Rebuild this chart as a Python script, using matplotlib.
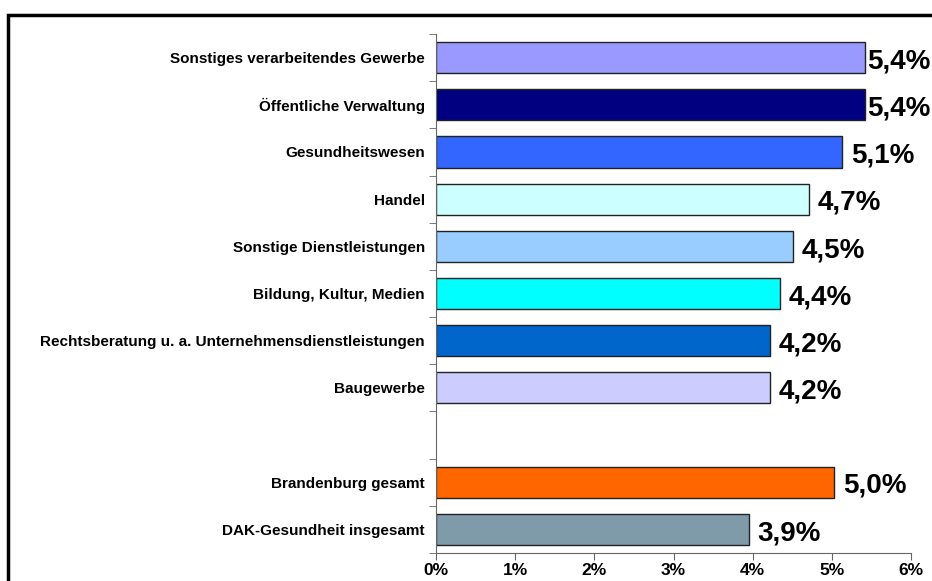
import numpy as np
import matplotlib
matplotlib.use('Agg')
import matplotlib.pyplot as plt
from matplotlib.patches import Rectangle

plt.rcParams['font.family'] = ['Liberation Sans', 'DejaVu Sans']

# Daten (von oben nach unten), leere Zeile als Abstand
kategorien = ['Sonstiges verarbeitendes Gewerbe', 'Öffentliche Verwaltung', 'Gesundheitswesen',
              'Handel', 'Sonstige Dienstleistungen', 'Bildung, Kultur, Medien',
              'Rechtsberatung u. a. Unternehmensdienstleistungen', 'Baugewerbe', '',
              'Brandenburg gesamt', 'DAK-Gesundheit insgesamt']
werte = [5.42, 5.42, 5.13, 4.71, 4.51, 4.35, 4.22, 4.22, None, 5.03, 3.95]
beschriftung = ['5,4%', '5,4%', '5,1%', '4,7%', '4,5%', '4,4%', '4,2%', '4,2%', '',
                '5,0%', '3,9%']
farben = ['#9999FF', '#000080', '#3366FF', '#CCFFFF', '#99CCFF', '#00FFFF',
          '#0066CC', '#CCCCFF', 'white', '#FF6600', '#7F9BAA']
x_ticks = [0, 1, 2, 3, 4, 5, 6]
x_labels = ['0%', '1%', '2%', '3%', '4%', '5%', '6%']

fig = plt.figure(figsize=(9.32, 5.81), dpi=100)
ax = fig.add_axes([0.4678, 0.0482, 0.5097, 0.8933])

pos = np.arange(len(kategorien))
for p, w, f, t in zip(pos, werte, farben, beschriftung):
    if w is None:
        continue
    ax.barh(p, w, height=0.66, color=f, edgecolor='#222222', linewidth=1)
    # Beschriftung rechts vom Balken, am Rand nach links geschoben
    ax.text(min(w + 0.11, 5.44), p + 0.08, t, fontsize=20, fontweight='bold',
            va='center', ha='left')

ax.set_xlim(0, 6)
ax.set_ylim(len(kategorien) - 0.5, -0.5)

# Y-Achse: Beschriftungen ohne Striche, Striche zwischen den Kategorien
ax.set_yticks(pos)
ax.set_yticklabels(kategorien, fontsize=11, fontweight='bold')
ax.tick_params(axis='y', length=0, pad=8)
ax.set_yticks(np.arange(-0.5, len(kategorien), 1), minor=True)
ax.tick_params(axis='y', which='minor', length=5, color='#666666', direction='out')

ax.set_xticks(x_ticks)
ax.set_xticklabels(x_labels, fontsize=12.5, fontweight='bold')
ax.tick_params(axis='x', length=5, color='#666666', direction='out', pad=2)

ax.spines['top'].set_visible(False)
ax.spines['right'].set_visible(False)
ax.spines['left'].set_color('#666666')
ax.spines['bottom'].set_color('#666666')

# Rahmen um das Diagramm
fig.patches.append(Rectangle((8 / 932, -0.2), 1.2, 1.2 - 15 / 581, transform=fig.transFigure,
                             fill=False, edgecolor='black', linewidth=2.5, clip_on=False))

plt.savefig('out.png', dpi=100)
